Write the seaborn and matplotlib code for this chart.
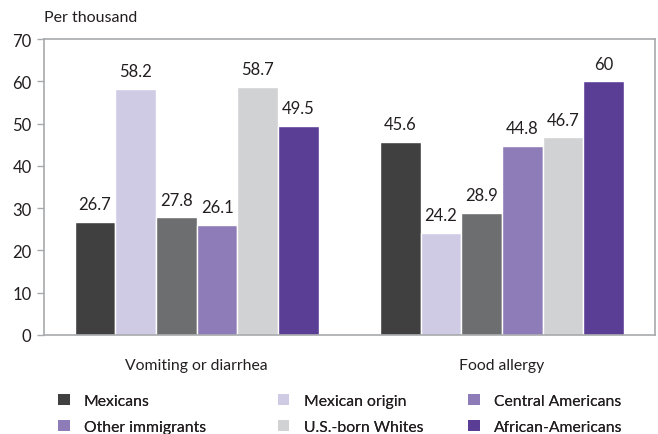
import pandas as pd
import matplotlib.pyplot as plt
import seaborn as sns
from matplotlib.patches import Patch

# data
conditions = ["Vomiting or diarrhea", "Food allergy"]
groups = ["Mexicans", "Mexican origin", "Central Americans",
          "Other immigrants", "U.S.-born Whites", "African-Americans"]
mexicans = [26.7, 45.6]
mexican_origin = [58.2, 24.2]
central_americans = [27.8, 28.9]
other_immigrants = [26.1, 44.8]
us_born_whites = [58.7, 46.7]
african_americans = [49.5, 60]

bar_colors = ["#404040", "#d0cbe5", "#6d6e70", "#8e7cb8", "#d1d2d4", "#5a3e96"]
# legend swatches as in the original (Central Americans drawn purple there)
legend_colors = ["#404040", "#d0cbe5", "#8e7cb8", "#8e7cb8", "#d1d2d4", "#5a3e96"]

series = [mexicans, mexican_origin, central_americans,
          other_immigrants, us_born_whites, african_americans]
df = pd.DataFrame([
    {"condition": c, "group": g, "value": v}
    for g, vals in zip(groups, series)
    for c, v in zip(conditions, vals)
])

sns.set_style("white")
plt.rcParams["font.family"] = ["Lato", "DejaVu Sans"]
txt = "#231f20"
frame = "#a7a9ac"

fig = plt.figure(figsize=(6.58, 4.35), dpi=100)
ax = fig.add_axes([0.067, 0.228, 0.928, 0.68])

sns.barplot(data=df, x="condition", y="value", hue="group", order=conditions,
            hue_order=groups, palette=bar_colors, saturation=1, width=0.8,
            legend=False, ax=ax)

for cont, vals in zip(ax.containers, series):
    ax.bar_label(cont, labels=[f"{v:g}" for v in vals], padding=7,
                 fontsize=12, color=txt)

ax.set_ylim(0, 70)
ax.set_xlim(-0.5, 1.5)
ax.set_yticks(range(0, 71, 10))
ax.set_xlabel("")
ax.set_ylabel("")
ax.tick_params(axis="y", length=5, width=1, color=frame, labelsize=12,
               labelcolor=txt, pad=4, left=True)
ax.tick_params(axis="x", length=0, labelsize=11.3, labelcolor=txt, pad=17)
for s in ax.spines.values():
    s.set_visible(True)
    s.set_color(frame)
    s.set_linewidth(1.2)

fig.text(0.067, 0.958, "Per thousand", fontsize=11.5, color=txt, va="center")

# legend, one column at a time, filled row-wise
col_x = [0.088, 0.422, 0.711]
for i, x in enumerate(col_x):
    idx = [i, i + 3]
    handles = [Patch(facecolor=legend_colors[j], edgecolor="none") for j in idx]
    leg = fig.legend(handles, [groups[j] for j in idx], loc="upper left",
                     bbox_to_anchor=(x, 0.093), frameon=False, fontsize=11.3,
                     handlelength=0.75, handleheight=0.75, handletextpad=0.9,
                     labelspacing=0.75, borderaxespad=0, borderpad=0,
                     labelcolor=txt)
    fig.add_artist(leg)

fig.savefig("out.png", dpi=100)
